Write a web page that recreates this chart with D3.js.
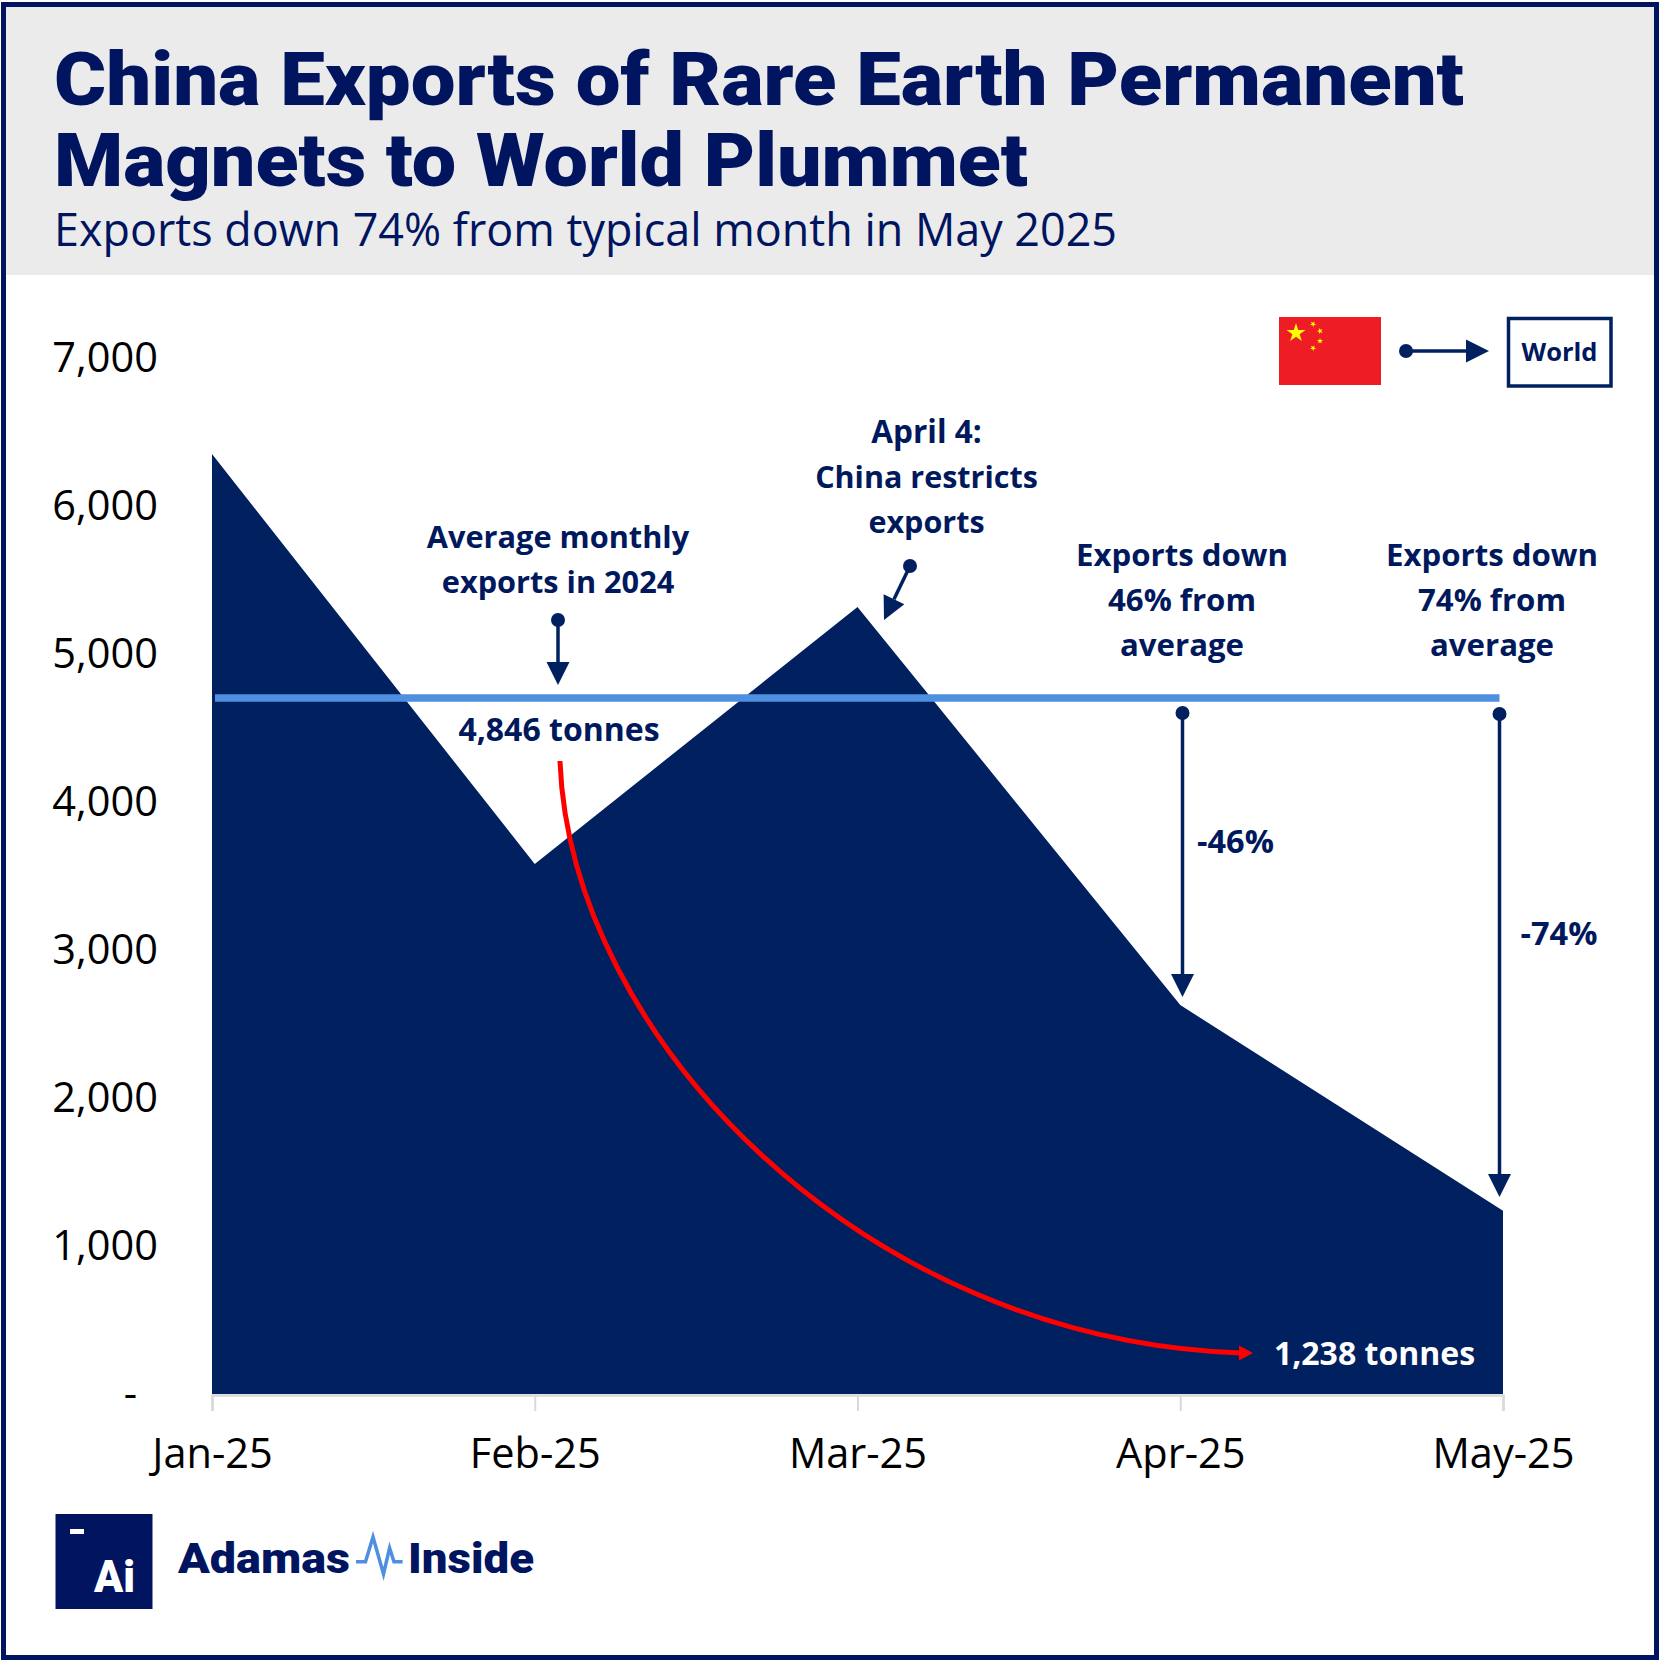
<!DOCTYPE html>
<html>
<head>
<meta charset="utf-8">
<title>China Exports of Rare Earth Permanent Magnets</title>
<script src="https://cdn.jsdelivr.net/npm/d3@7"></script>
<style>
  html, body { margin: 0; padding: 0; background: #fff; }
  svg { display: block; }
</style>
</head>
<body>
<div id="chart"></div>
<script>
// values (tonnes)
const months = ["Jan-25", "Feb-25", "Mar-25", "Apr-25", "May-25"];
const exportsTonnes = [6351, 3581, 5318, 2628, 1238];
const yTicks = [0, 1000, 2000, 3000, 4000, 5000, 6000, 7000];
const avgLineLevel = 4703; // where the line sits in the picture (labelled 4,846)

const titleLines = ["China Exports of Rare Earth Permanent", "Magnets to World Plummet"];
const subtitle = "Exports down 74% from typical month in May 2025";
const noteAverage = ["Average monthly", "exports in 2024"];
const noteApril = ["April 4:", "China restricts", "exports"];
const noteApr = ["Exports down", "46% from", "average"];
const noteMay = ["Exports down", "74% from", "average"];

const NAVY = "#002060", INK = "#00185c", FRAME = "#00145f", BLUE = "#4f8fdf", RED = "#ff0000";
const BODY_FONT = "'Open Sans', sans-serif";
const HEAD_FONT = "Roboto, sans-serif";

const width = 1659, height = 1661;
const svg = d3.select("#chart").append("svg").attr("width", width).attr("height", height);

const x = d3.scalePoint().domain(months).range([212, 1503]);
const y = d3.scaleLinear().domain([0, 7000]).range([1394, 358]);

const text = (str, px, py, o = {}) => {
  const t = svg.append("text")
    .attr("x", px).attr("y", py)
    .attr("text-anchor", o.anchor || "middle")
    .attr("fill", o.fill || INK)
    .attr("font-family", o.family || BODY_FONT)
    .attr("font-size", o.size || 31)
    .attr("font-weight", o.weight || 700)
    .text(str);
  if (o.fit) t.attr("textLength", o.fit).attr("lengthAdjust", "spacingAndGlyphs");
  return t;
};

const arrow = (x1, y1, x2, y2, o = {}) => {
  // dot at the start, filled triangle at the end
  const headLen = o.headLen || 23, half = o.half || 11.5;
  const ang = Math.atan2(y2 - y1, x2 - x1);
  const bx = x2 - headLen * Math.cos(ang), by = y2 - headLen * Math.sin(ang);
  const nx = -Math.sin(ang) * half, ny = Math.cos(ang) * half;
  svg.append("line").attr("x1", x1).attr("y1", y1).attr("x2", bx).attr("y2", by)
    .attr("stroke", NAVY).attr("stroke-width", 3.5);
  svg.append("circle").attr("cx", x1).attr("cy", y1).attr("r", 7).attr("fill", NAVY);
  svg.append("polygon").attr("fill", NAVY)
    .attr("points", [[x2, y2], [bx + nx, by + ny], [bx - nx, by - ny]].join(" "));
};

// frame + header
svg.append("rect").attr("x", 5).attr("y", 6).attr("width", 1650).attr("height", 269).attr("fill", "#ebebeb");
svg.append("rect").attr("x", 3.5).attr("y", 4.5).attr("width", 1653).attr("height", 1653)
  .attr("fill", "none").attr("stroke", FRAME).attr("stroke-width", 5);

text(titleLines[0], 54, 105, { anchor: "start", family: HEAD_FONT, size: 75, weight: 900, fill: FRAME, fit: 1410 });
text(titleLines[1], 54, 186, { anchor: "start", family: HEAD_FONT, size: 75, weight: 900, fill: FRAME, fit: 974 });
text(subtitle, 54, 246, { anchor: "start", size: 46, weight: 400, fill: FRAME, fit: 1063 });

// area
const area = d3.area()
  .x((d, i) => x(months[i]))
  .y0(y(0))
  .y1(d => y(d));
svg.append("path").datum(exportsTonnes).attr("d", area).attr("fill", NAVY);

// axes
const xAxis = svg.append("g").attr("transform", `translate(0,${y(0) + 1})`)
  .call(d3.axisBottom(x).tickSize(16).tickPadding(28));
xAxis.select(".domain").attr("stroke", "#d9d9d9").attr("stroke-width", 2.5);
xAxis.selectAll(".tick line").attr("stroke", "#d9d9d9").attr("stroke-width", 2);
xAxis.selectAll("text")
  .attr("font-family", BODY_FONT).attr("font-size", 41.5).attr("fill", "#000");

const yAxis = svg.append("g").attr("transform", "translate(158,0)")
  .call(d3.axisLeft(y).tickValues(yTicks).tickSize(0).tickPadding(0)
    .tickFormat(d => d === 0 ? "-" : d3.format(",")(d)));
yAxis.select(".domain").remove();
yAxis.selectAll("text")
  .attr("font-family", BODY_FONT).attr("font-size", 41.5).attr("fill", "#000")
  .attr("dy", "0.32em")
  .attr("dx", d => d === 0 ? -21 : 0);

// average line
svg.append("line")
  .attr("x1", x(months[0]) + 3).attr("x2", x(months[4]) - 3.5)
  .attr("y1", y(avgLineLevel)).attr("y2", y(avgLineLevel))
  .attr("stroke", BLUE).attr("stroke-width", 7.5);

// red curve, average to May level
svg.append("path")
  .attr("d", "M560,761 C570,1035 860,1340 1241,1353")
  .attr("fill", "none").attr("stroke", RED).attr("stroke-width", 5);
svg.append("polygon").attr("fill", RED).attr("points", "1253,1353 1239,1345.5 1239,1360.5");

// annotation arrows
arrow(558, 620, 558, 685);
arrow(910, 566, 884, 620);
arrow(1182.5, 713, 1182.5, 997);
arrow(1499.5, 714, 1499.5, 1197);

// annotation text
noteAverage.forEach((s, i) => text(s, 558, 548 + i * 45, { size: 30.7 }));
noteApril.forEach((s, i) => text(s, 926.5, 443 + i * 45, { size: i === 0 ? 31.5 : 30.5 }));
noteApr.forEach((s, i) => text(s, 1182, 565.5 + i * 45, { size: 31.2 }));
noteMay.forEach((s, i) => text(s, 1492, 565.5 + i * 45, { size: 31.2 }));
text("4,846 tonnes", 559, 741, { size: 32 });
text("-46%", 1235.5, 853, { size: 32.5 });
text("-74%", 1559, 945, { size: 32.5 });
text("1,238 tonnes", 1374.5, 1365, { size: 32, fill: "#fff" });

// flag -> World legend
const star = (cx, cy, r, rot = 0) => {
  const pts = d3.range(10).map(i => {
    const rad = i % 2 ? r * 0.382 : r;
    const a = -Math.PI / 2 + rot + i * Math.PI / 5;
    return [cx + rad * Math.cos(a), cy + rad * Math.sin(a)];
  });
  svg.append("polygon").attr("points", pts.join(" ")).attr("fill", "#ffff00");
};
svg.append("rect").attr("x", 1279).attr("y", 317).attr("width", 102).attr("height", 68).attr("fill", "#ee1c25");
star(1296, 333, 10);
star(1313, 324, 3.2, 0.5);
star(1320, 331, 3.2, 0.9);
star(1320, 341, 3.2, 0);
star(1313, 348, 3.2, 0.5);
arrow(1406, 351, 1489, 351);
svg.append("rect").attr("x", 1508.5).attr("y", 318.5).attr("width", 102.5).attr("height", 67.5)
  .attr("fill", "#fff").attr("stroke", NAVY).attr("stroke-width", 3.5);
text("World", 1559.5, 361, { size: 25.5 });

// logo
svg.append("rect").attr("x", 55.5).attr("y", 1514).attr("width", 97).attr("height", 95).attr("fill", FRAME);
svg.append("rect").attr("x", 70).attr("y", 1529).attr("width", 14).attr("height", 5).attr("fill", "#fff");
text("Ai", 94, 1592, { anchor: "start", family: HEAD_FONT, size: 44, weight: 900, fill: "#fff", fit: 41 });
text("Adamas", 178, 1573, { anchor: "start", family: HEAD_FONT, size: 43, weight: 900, fill: FRAME, fit: 172 });
text("Inside", 408, 1573, { anchor: "start", family: HEAD_FONT, size: 43, weight: 900, fill: FRAME, fit: 126 });
const pulseX = [356, 365.5, 373, 383.5, 389.6, 394, 402.6];
const pulseY = [1561.7, 1561.7, 1537, 1574, 1548, 1561.7, 1561.7];
svg.append("path")
  .attr("d", d3.line()(pulseX.map((v, i) => [v, pulseY[i]])))
  .attr("fill", "none").attr("stroke", BLUE).attr("stroke-width", 3.5);
</script>
</body>
</html>
